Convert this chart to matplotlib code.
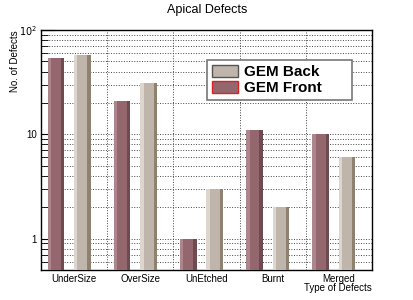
import matplotlib
matplotlib.use("Agg")
from matplotlib import pyplot as plt
from matplotlib.patches import Patch
from matplotlib.ticker import LogLocator, FixedLocator, NullFormatter

categories = ["UnderSize", "OverSize", "UnEtched", "Burnt", "Merged"]
gem_front = [54, 21, 1, 11, 10]
gem_back = [57, 31, 3, 2, 6]

plt.rcParams['font.family'] = ['Liberation Sans', 'DejaVu Sans']

fig = plt.figure(figsize=(4.14, 3.0), dpi=100)
ax = fig.add_axes([41/414, 30/300, 331/414, 240/300])

front_col, front_light, front_dark = "#94676f", "#ac868c", "#6e4a51"
back_col, back_light, back_dark = "#bfb5aa", "#ddd6cf", "#8f8170"

def draw_bars(offset, values, col, light, dark):
    x = [i + offset for i in range(len(values))]
    w = 0.25
    ax.bar(x, values, width=w, align='edge', color=col, zorder=3)
    ax.bar(x, values, width=w * 0.2, align='edge', color=light, zorder=4)
    ax.bar([v + w * 0.8 for v in x], values, width=w * 0.2, align='edge', color=dark, zorder=4)

draw_bars(0.1, gem_front, front_col, front_light, front_dark)
draw_bars(0.5, gem_back, back_col, back_light, back_dark)

ax.set_yscale('log')
ax.set_ylim(0.5, 100)
ax.set_xlim(0, 5)
ax.yaxis.set_major_locator(FixedLocator([1, 10, 100]))
ax.set_yticklabels(["1", "10", "$10^2$"], fontsize=7)
ax.yaxis.set_minor_locator(LogLocator(base=10, subs=range(2, 10)))
ax.yaxis.set_minor_formatter(NullFormatter())
ax.tick_params(axis='y', which='major', direction='in', length=10, width=0.8, pad=3)
ax.tick_params(axis='y', which='minor', direction='in', length=5, width=0.6)
ax.tick_params(axis='y', right=False)

ax.xaxis.set_major_locator(FixedLocator([1, 2, 3, 4]))
ax.xaxis.set_minor_locator(FixedLocator([i + 0.5 for i in range(5)]))
ax.set_xticklabels([])
ax.set_xticklabels(categories, minor=True, fontsize=7)
ax.tick_params(axis='x', which='both', length=0, pad=3)

ax.grid(True, which='major', axis='x', linestyle=':', color='#444444', linewidth=0.7, zorder=0)
ax.grid(True, which='both', axis='y', linestyle=':', color='#444444', linewidth=0.7, zorder=0)

for s in ax.spines.values():
    s.set_linewidth(1.0)
    s.set_color('black')

fig.text(0.5, 0.967, "Apical Defects", ha='center', va='center', fontsize=9)
fig.text(15/414, 0.9, "No. of Defects", rotation=90, ha='center', va='top', fontsize=7)
fig.text(372/414, 1 - 288/300, "Type of Defects", ha='right', va='center', fontsize=7)

handles = [Patch(facecolor=back_col, edgecolor='#555555', linewidth=1.0, label="GEM Back"),
           Patch(facecolor=front_col, edgecolor='#e02020', linewidth=1.0, label="GEM Front")]
leg = ax.legend(handles=handles, loc='upper left',
                bbox_to_anchor=(166/331, (270 - 98)/240, 145/331, 38/240), mode='expand',
                borderaxespad=0, fancybox=False, framealpha=1, edgecolor='#777777',
                prop={'weight': 'bold', 'size': 11}, handlelength=1.7, handleheight=0.9,
                borderpad=0.3, labelspacing=0.1, handletextpad=0.4)
leg.get_frame().set_linewidth(1.2)

fig.savefig("out.png", dpi=100)
